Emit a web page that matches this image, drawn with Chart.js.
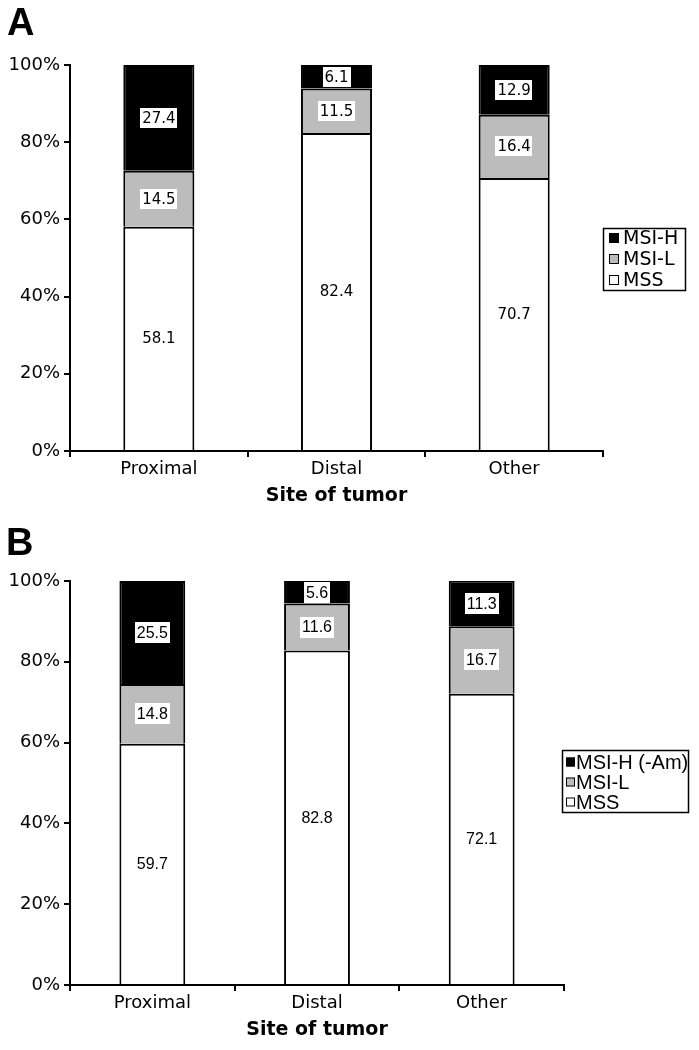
<!DOCTYPE html>
<html><head><meta charset="utf-8">
<script src="https://cdn.jsdelivr.net/npm/chart.js@4.4.1/dist/chart.umd.min.js"></script>
<style>
html,body{margin:0;padding:0;background:#fff;}
body{width:699px;height:1050px;position:relative;overflow:hidden;}
canvas{position:absolute;left:0;}
.lbl{position:absolute;font:bold 38px "Liberation Sans",Arial,sans-serif;color:#000;z-index:2;line-height:1;}
</style></head><body>
<canvas id="cA" width="699" height="520" style="top:0;width:699px;height:520px"></canvas>
<canvas id="cB" width="699" height="530" style="top:520px;width:699px;height:530px"></canvas>
<div class="lbl" style="left:7px;top:3px">A</div>
<div class="lbl" style="left:6px;top:523px">B</div>
<script>
const categories = ['Proximal', 'Distal', 'Other'];
const mssA  = [58.1, 82.4, 70.7];
const msilA = [14.5, 11.5, 16.4];
const msihA = [27.4, 6.1, 12.9];
const mssB  = [59.7, 82.8, 72.1];
const msilB = [14.8, 11.6, 16.7];
const msihB = [25.5, 5.6, 11.3];
const yTicks = [0, 20, 40, 60, 80, 100];
const legendA = ['MSI-H', 'MSI-L', 'MSS'];
const legendB = ['MSI-H (-Am)', 'MSI-L', 'MSS'];
const xTitle = 'Site of tumor';

const VERD = '"DejaVu Sans", Verdana, sans-serif';
const ARIAL = '"Liberation Sans", Arial, sans-serif';

const labelPlugin = {
  id: 'segLabels',
  afterDatasetsDraw(chart, args, opts) {
    const ctx = chart.ctx;
    ctx.save();
    ctx.font = opts.font;
    ctx.textAlign = 'center';
    ctx.textBaseline = 'middle';
    chart.data.datasets.forEach((ds, i) => {
      const meta = chart.getDatasetMeta(i);
      meta.data.forEach((el, j) => {
        const v = ds.data[j];
        const txt = v.toFixed(1);
        const cx = el.x, cy = (el.y + el.base) / 2;
        if (i > 0) {
          const w = ctx.measureText(txt).width + opts.padX * 2;
          const h = opts.boxH;
          ctx.fillStyle = '#fff';
          ctx.fillRect(Math.round(cx - w / 2), Math.round(cy - h / 2), Math.round(w), h);
        }
        ctx.fillStyle = '#000';
        ctx.fillText(txt, cx, cy + opts.dy);
      });
    });
    ctx.restore();
  }
};

const legendPlugin = {
  id: 'boxLegend',
  afterDraw(chart, args, o) {
    const ctx = chart.ctx;
    ctx.save();
    ctx.strokeStyle = '#000';
    ctx.lineWidth = 1.5;
    ctx.strokeRect(o.x + 0.5, o.y + 0.5, o.w, o.h);
    ctx.font = o.font;
    ctx.textBaseline = 'middle';
    ctx.textAlign = 'left';
    const n = chart.data.datasets.length;
    o.labels.forEach((t, k) => {
      const ds = chart.data.datasets[n - 1 - k];
      const cy = o.y + o.firstY + k * o.rowH;
      ctx.fillStyle = ds.backgroundColor;
      ctx.fillRect(o.x + o.swX, cy - o.sw / 2, o.sw, o.sw);
      ctx.lineWidth = 1;
      ctx.strokeRect(o.x + o.swX + 0.5, cy - o.sw / 2 + 0.5, o.sw - 1, o.sw - 1);
      ctx.fillStyle = '#000';
      ctx.fillText(t, o.x + o.txX, cy + 1);
    });
    ctx.restore();
  }
};

function makeChart(id, mss, msil, msih, cfg) {
  const mkDs = (label, data, color) => ({
    label, data, backgroundColor: color, borderColor: '#000', borderWidth: 2,
    barPercentage: 0.8, categoryPercentage: 0.5
  });
  return new Chart(document.getElementById(id), {
    type: 'bar',
    data: {
      labels: categories,
      datasets: [
        mkDs('MSS', mss, '#ffffff'),
        mkDs('MSI-L', msil, '#bcbcbc'),
        mkDs(cfg.legend[0], msih, '#000000')
      ]
    },
    options: {
      responsive: false,
      animation: false,
      devicePixelRatio: 1,
      layout: { padding: { top: cfg.top, right: cfg.right, bottom: cfg.bottom, left: 0 } },
      plugins: {
        legend: { display: false },
        tooltip: { enabled: false },
        segLabels: cfg.labels,
        boxLegend: cfg.legendBox
      },
      scales: {
        x: {
          stacked: true,
          grid: { drawOnChartArea: false, drawTicks: true, tickLength: 6, color: '#000', lineWidth: 2, offset: true },
          border: { display: true, color: '#000', width: 2 },
          ticks: { color: '#000', font: { family: VERD, size: 18 }, padding: 2 },
          title: { display: true, text: xTitle, color: '#000', font: { family: VERD, size: 19, weight: 'bold' }, padding: 0 },
          afterFit(s) { s.height = cfg.xH; }
        },
        y: {
          stacked: true,
          min: 0, max: 100,
          afterBuildTicks(s) { s.ticks = yTicks.map(v => ({ value: v })); },
          grid: { drawOnChartArea: false, drawTicks: true, tickLength: 6, color: '#000', lineWidth: 2 },
          border: { display: true, color: '#000', width: 2 },
          ticks: { color: '#000', font: { family: VERD, size: 18 }, padding: 4, callback: v => v + '%' },
          afterFit(s) { s.width = 70; }
        }
      }
    },
    plugins: [labelPlugin, legendPlugin]
  });
}

makeChart('cA', mssA, msilA, msihA, {
  legend: legendA, top: 65, right: 96, bottom: 13, xH: 56,
  labels: { font: '15px ' + VERD, padX: 2, boxH: 20, dy: 1 },
  legendBox: { labels: legendA, x: 603, y: 228, w: 82, h: 62, font: '19px ' + VERD,
    firstY: 10, rowH: 21, sw: 10, swX: 6, txX: 20 }
});
makeChart('cB', mssB, msilB, msihB, {
  legend: legendB, top: 61, right: 135, bottom: 9, xH: 56,
  labels: { font: '16px ' + ARIAL, padX: 2, boxH: 21, dy: 1 },
  legendBox: { labels: legendB, x: 562, y: 230, w: 126, h: 62, font: '20px ' + ARIAL,
    firstY: 12, rowH: 20, sw: 9, swX: 4, txX: 14 }
});
</script>
</body></html>
